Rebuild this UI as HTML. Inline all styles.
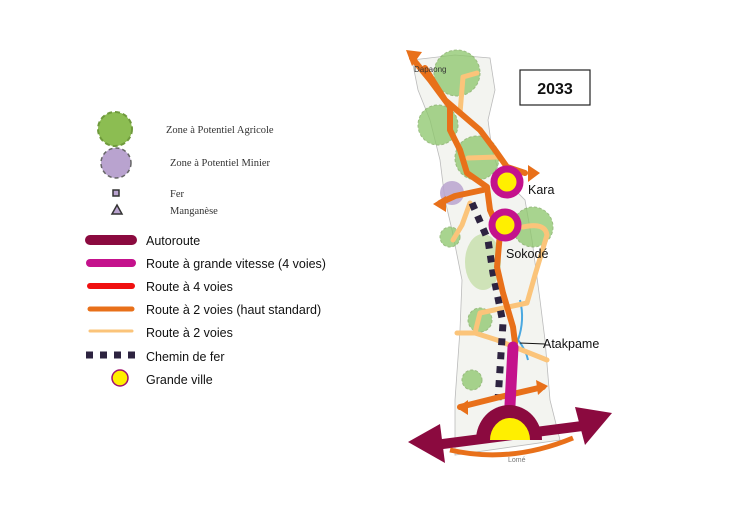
<!DOCTYPE html>
<html><head><meta charset="utf-8"><style>
body{margin:0;background:#fff;}
svg{display:block}
.s{font-family:"Liberation Serif",serif;font-size:10.5px;fill:#333}
.l{font-family:"Liberation Sans",sans-serif;font-size:12.5px;fill:#111}
</style></head><body>
<svg width="753" height="512" viewBox="0 0 753 512" xmlns="http://www.w3.org/2000/svg">
<rect width="753" height="512" fill="#fff"/>
<!-- legend -->
<circle cx="115" cy="129" r="17" fill="#8cbd52" stroke="#6f9a3c" stroke-width="2" stroke-dasharray="5 3"/>
<text class="s" x="166" y="133">Zone à Potentiel Agricole</text>
<circle cx="116" cy="163" r="15" fill="#b9a3cf" stroke="#666" stroke-width="1.5" stroke-dasharray="4 3"/>
<text class="s" x="170" y="166">Zone à Potentiel Minier</text>
<rect x="113" y="190" width="6" height="6" fill="#b9a3cf" stroke="#333" stroke-width="1.5"/>
<text class="s" x="170" y="197">Fer</text>
<polygon points="117,205 122,214 112,214" fill="#b9a3cf" stroke="#333" stroke-width="1.5"/>
<text class="s" x="170" y="214">Manganèse</text>
<line x1="90" y1="240" x2="132" y2="240" stroke="#8b0a3f" stroke-width="10" stroke-linecap="round"/>
<text class="l" x="146" y="245">Autoroute</text>
<line x1="90" y1="263" x2="132" y2="263" stroke="#c4128c" stroke-width="8" stroke-linecap="round"/>
<text class="l" x="146" y="268">Route à grande vitesse (4 voies)</text>
<line x1="90" y1="286" x2="132" y2="286" stroke="#f01010" stroke-width="6" stroke-linecap="round"/>
<text class="l" x="146" y="291">Route à 4 voies</text>
<line x1="90" y1="309" x2="132" y2="309" stroke="#e8701a" stroke-width="5" stroke-linecap="round"/>
<text class="l" x="146" y="314">Route à 2 voies (haut standard)</text>
<line x1="90" y1="331" x2="132" y2="331" stroke="#fbc47a" stroke-width="3" stroke-linecap="round"/>
<text class="l" x="146" y="337">Route à 2 voies</text>
<line x1="86" y1="355" x2="137" y2="355" stroke="#2d2340" stroke-width="7" stroke-dasharray="7 7"/>
<text class="l" x="146" y="361">Chemin de fer</text>
<circle cx="120" cy="378" r="8" fill="#ffef00" stroke="#a01070" stroke-width="1.5"/>
<text class="l" x="146" y="384">Grande ville</text>
<!-- map base -->
<polygon points="412,60 455,55 490,58 495,90 488,120 492,150 500,175 525,200 532,240 540,300 545,340 550,400 560,440 455,455 455,400 460,330 462,280 452,230 445,200 440,160 430,120 418,90" fill="#f3f4f0" stroke="#bbb" stroke-width="0.8"/>
<ellipse cx="483" cy="262" rx="18" ry="28" fill="#cfe3b8"/>
<g fill="#8cc66a" opacity="0.75" stroke="#7aa85a" stroke-dasharray="3 2">
<circle cx="457" cy="73" r="23"/><circle cx="438" cy="125" r="20"/><circle cx="477" cy="158" r="22"/>
<circle cx="533" cy="227" r="20"/><circle cx="450" cy="237" r="10"/><circle cx="480" cy="320" r="12"/><circle cx="472" cy="380" r="10"/>
</g>
<circle cx="452" cy="193" r="12" fill="#b9a3cf" opacity="0.85"/>
<path d="M520,300 q5,20 -2,40 q8,10 10,20" fill="none" stroke="#4aa8e0" stroke-width="2"/>
<!-- light roads -->
<g fill="none" stroke="#fbc47a" stroke-width="5" stroke-linecap="round" stroke-linejoin="round">
<path d="M477,73 L463,77 L460,113"/>
<path d="M468,158 L497,157"/>
<path d="M453,240 L462,225 L470,203"/>
<path d="M523,227 Q545,222 547,235 L535,275 L527,303 L480,313 L475,333 L457,333"/>
<path d="M475,333 L497,340 L547,360"/>
</g>
<!-- railway -->
<path d="M472,203 L488,240 L493,273 L503,323 L498,400" fill="none" stroke="#2d2340" stroke-width="7" stroke-dasharray="7 7"/>
<!-- orange roads -->
<g fill="none" stroke="#e8701a" stroke-width="6" stroke-linecap="round" stroke-linejoin="round">
<path d="M412,58 L430,80 L450,107 L450,130 L460,150 L467,173 L487,187 L490,210 L500,233 L497,267 L503,293 L513,327 L515,343"/>
<path d="M425,68 L445,100 L480,130 L495,150 L507,167 L525,173"/>
<path d="M483,190 L455,196 L440,203"/>
<path d="M460,407 L500,397 L543,387"/>
</g>
<g fill="#e8701a">
<polygon points="406,50 422,52 412,66"/>
<polygon points="540,173 528,165 528,182"/>
<polygon points="433,204 446,196 446,212"/>
<polygon points="457,408 468,400 468,415"/>
<polygon points="548,386 536,380 538,395"/>
</g>
<!-- magenta -->
<path d="M513,347 L510,405" stroke="#c4128c" stroke-width="11" stroke-linecap="round" fill="none"/>
<g stroke="#c4128c" stroke-width="7" fill="#ffef00">
<circle cx="507" cy="182" r="13"/><circle cx="505" cy="225" r="13"/>
</g>
<!-- autoroute -->
<path d="M435,445 L590,425" stroke="#8b0a3f" stroke-width="10" fill="none"/>
<polygon points="408,442 440,424 445,463" fill="#8b0a3f"/>
<polygon points="612,413 575,407 585,445" fill="#8b0a3f"/>
<path d="M476,440 A33,35 0 0 1 542,440 Z" fill="#8b0a3f"/>
<path d="M490,440 A20,22 0 0 1 530,440 Z" fill="#ffef00"/>
<path d="M450,450 Q510,464 573,438" fill="none" stroke="#e8701a" stroke-width="5"/>
<!-- labels -->
<rect x="520" y="70" width="70" height="35" fill="#fff" stroke="#222" stroke-width="1.2"/>
<text x="555" y="94" text-anchor="middle" font-family="Liberation Sans,sans-serif" font-weight="bold" font-size="16" fill="#111">2033</text>
<text x="414" y="72" font-family="Liberation Sans,sans-serif" font-size="8" fill="#333">Dapaong</text>
<text class="l" x="528" y="194">Kara</text>
<text class="l" x="506" y="258">Sokodé</text>
<line x1="520" y1="343" x2="545" y2="344" stroke="#111" stroke-width="1"/>
<text class="l" x="543" y="348">Atakpame</text>
<text x="508" y="462" font-family="Liberation Sans,sans-serif" font-size="7" fill="#777">Lomé</text>
</svg>
</body></html>
